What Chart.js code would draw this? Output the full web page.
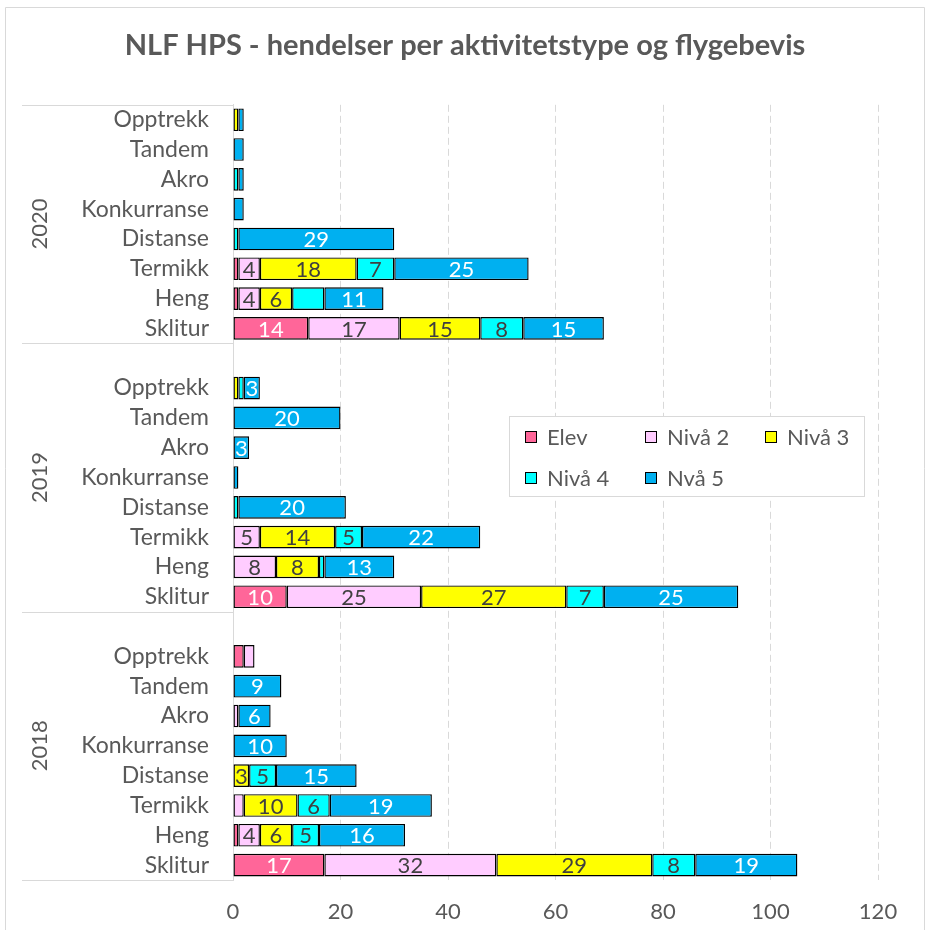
<!DOCTYPE html>
<html lang="no">
<head>
<meta charset="utf-8">
<title>NLF HPS - hendelser per aktivitetstype og flygebevis</title>
<script src="https://cdn.jsdelivr.net/npm/chart.js@4.4.1/dist/chart.umd.min.js"></script>
<style>
  html, body { margin: 0; padding: 0; background: #fff; }
  #wrap { width: 930px; height: 930px; position: relative; }
</style>
</head>
<body>
<div id="wrap"><canvas id="hendelser" width="930" height="930"></canvas></div>
<script>
// kategorier
const aar = ["2020", "2019", "2018"];
const aktiviteter = ["Opptrekk", "Tandem", "Akro", "Konkurranse", "Distanse", "Termikk", "Heng", "Sklitur"];
const serier = ["Elev", "Nivå 2", "Nivå 3", "Nivå 4", "Nvå 5"];
const farger = ["#FF6699", "#FFCCFF", "#FFFF00", "#00FFFF", "#00B0F0"];
const etikettFarger = ["#ffffff", "#404040", "#404040", "#404040", "#ffffff"];

// verdier per år (samme rekkefølge som aar), i rekkefølgen til aktiviteter
const elev = [
  [0, 0, 0, 0, 0, 1, 1, 14],
  [0, 0, 0, 0, 0, 0, 0, 10],
  [2, 0, 0, 0, 0, 0, 1, 17]
];
const niva2 = [
  [0, 0, 0, 0, 0, 4, 4, 17],
  [0, 0, 0, 0, 0, 5, 8, 25],
  [2, 0, 1, 0, 0, 2, 4, 32]
];
const niva3 = [
  [1, 0, 0, 0, 0, 18, 6, 15],
  [1, 0, 0, 0, 0, 14, 8, 27],
  [0, 0, 0, 0, 3, 10, 6, 29]
];
const niva4 = [
  [0, 0, 1, 0, 1, 7, 6, 8],
  [1, 0, 0, 0, 1, 5, 1, 7],
  [0, 0, 0, 0, 5, 6, 5, 8]
];
const niva5 = [
  [1, 2, 1, 2, 29, 25, 11, 15],
  [3, 20, 3, 1, 20, 22, 13, 25],
  [0, 9, 6, 10, 15, 19, 16, 19]
];

// akseverdier
const xTicks = [0, 20, 40, 60, 80, 100, 120];

// etiketter som ikke vises i originalen
const skjulteEtiketter = [["2020", "Heng", "Nivå 4"]];

const FONT = "Lato, 'Noto Sans', sans-serif";
const GRA = "#595959";
const STR = 22; // skriftstørrelse

// rader: et tomt mellomrom foran 2019 og 2018
const rader = [];
aar.forEach((a, g) => {
  if (g > 0) rader.push({ aar: a, akt: "", g: g, i: -1 });
  aktiviteter.forEach((akt, i) => rader.push({ aar: a, akt: akt, g: g, i: i }));
});

const alleVerdier = [elev, niva2, niva3, niva4, niva5];
const datasets = serier.map((navn, s) => ({
  label: navn,
  data: rader.map(r => {
    if (r.i < 0) return null;
    const v = alleVerdier[s][r.g][r.i];
    return v > 0 ? v : null;
  }),
  backgroundColor: farger[s],
  borderColor: "#000000",
  borderWidth: 1.4,
  borderSkipped: false,
  barPercentage: 0.76,
  categoryPercentage: 1
}));

// egen tegning: ramme, årsgrupper, verdietiketter, forklaring
const ekstra = {
  id: "ekstra",
  beforeDraw(chart) {
    const c = chart.ctx;
    c.save();
    c.strokeStyle = "#D9D9D9";
    c.lineWidth = 1;
    c.beginPath();
    c.moveTo(5.5, 930);
    c.lineTo(5.5, 7.5);
    c.lineTo(924.5, 7.5);
    c.lineTo(924.5, 930);
    c.stroke();
    c.restore();
  },
  afterDatasetsDraw(chart) {
    const c = chart.ctx;
    const y = chart.scales.y;
    const area = chart.chartArea;
    const halv = (y.getPixelForValue(1) - y.getPixelForValue(0)) / 2;

    // gruppeskiller og årstall
    const grupper = [];
    let start = 0;
    aar.forEach((a, g) => {
      const n = aktiviteter.length + (g > 0 ? 1 : 0);
      grupper.push({ aar: a, fra: start, til: start + n - 1 });
      start += n;
    });
    c.save();
    c.strokeStyle = "#D9D9D9";
    c.lineWidth = 1;
    grupper.forEach((gr) => {
      const topp = y.getPixelForValue(gr.fra) - halv;
      const bunn = y.getPixelForValue(gr.til) + halv;
      [topp, bunn].forEach(py => {
        c.beginPath();
        c.moveTo(22, Math.round(py) + 0.5);
        c.lineTo(area.left, Math.round(py) + 0.5);
        c.stroke();
      });
      c.save();
      c.translate(40, (topp + bunn) / 2);
      c.rotate(-Math.PI / 2);
      c.fillStyle = GRA;
      c.font = STR + "px " + FONT;
      c.textAlign = "center";
      c.textBaseline = "middle";
      c.fillText(gr.aar, 0, 0);
      c.restore();
    });

    // verdietiketter
    c.font = STR + "px " + FONT;
    c.textAlign = "center";
    c.textBaseline = "middle";
    chart.data.datasets.forEach((ds, s) => {
      const meta = chart.getDatasetMeta(s);
      meta.data.forEach((el, idx) => {
        const v = ds.data[idx];
        if (v == null || v < 3) return;
        const r = rader[idx];
        const skjult = skjulteEtiketter.some(h => h[0] === r.aar && h[1] === r.akt && h[2] === ds.label);
        if (skjult) return;
        c.fillStyle = etikettFarger[s];
        c.fillText(String(v), (el.x + el.base) / 2, el.y + 1);
      });
    });

    // forklaring
    const bx = 509, by = 416, bw = 355, bh = 80;
    c.fillStyle = "#ffffff";
    c.fillRect(bx, by, bw, bh);
    c.strokeStyle = "#D9D9D9";
    c.strokeRect(bx + 0.5, by + 0.5, bw, bh);
    const kol = [525, 645, 765];
    const rad = [437, 478];
    c.textAlign = "left";
    c.font = STR + "px " + FONT;
    serier.forEach((navn, s) => {
      const kx = kol[s % 3];
      const ky = rad[Math.floor(s / 3)];
      c.fillStyle = farger[s];
      c.fillRect(kx, ky - 6, 12, 12);
      c.strokeStyle = "#000000";
      c.strokeRect(kx + 0.5, ky - 5.5, 11, 11);
      c.fillStyle = GRA;
      c.fillText(navn, kx + 22, ky + 1);
    });
    c.restore();
  }
};

new Chart(document.getElementById("hendelser").getContext("2d"), {
  type: "bar",
  data: {
    labels: rader.map(r => r.akt),
    datasets: datasets
  },
  options: {
    indexAxis: "y",
    responsive: false,
    animation: false,
    // lik padding på begge sider, så tittelen blir midtstilt på siden
    layout: { padding: { left: 52, right: 52, top: 0, bottom: 0 } },
    plugins: {
      legend: { display: false },
      tooltip: { enabled: false },
      title: {
        display: true,
        text: "NLF HPS - hendelser per aktivitetstype og flygebevis",
        color: GRA,
        font: { family: FONT, size: 29, weight: "bold" },
        padding: { top: 28, bottom: 42 }
      }
    },
    scales: {
      x: {
        stacked: true,
        min: xTicks[0],
        max: xTicks[xTicks.length - 1],
        afterBuildTicks: (scale) => { scale.ticks = xTicks.map(v => ({ value: v })); },
        ticks: { color: GRA, font: { family: FONT, size: STR }, padding: 19 },
        grid: {
          drawTicks: false,
          color: (ctx) => ctx.tick && ctx.tick.value === 0 ? "rgba(0,0,0,0)" : "#D9D9D9"
        },
        border: { display: false, dash: [7, 4] },
        afterFit: (scale) => { scale.height = 50; }
      },
      y: {
        stacked: true,
        ticks: { color: GRA, font: { family: FONT, size: 23 }, padding: 24, autoSkip: false },
        grid: { display: false, drawTicks: false },
        border: { display: true, color: "#D9D9D9", width: 1 },
        afterFit: (scale) => { scale.width = 181; }
      }
    }
  },
  plugins: [ekstra]
});
</script>
</body>
</html>
